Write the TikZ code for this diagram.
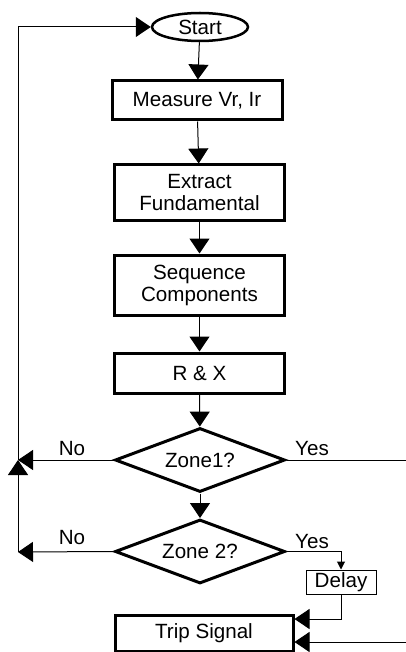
\documentclass[tikz,border=0pt]{standalone}
\usepackage{fontspec}
\setmainfont{Liberation Sans}
\usetikzlibrary{shapes.geometric,arrows.meta,positioning,calc}
\tikzset{
  flowbox/.style={draw, line width=1.5pt, minimum width=85pt, inner sep=1pt, align=center},
  thinbox/.style={draw, line width=0.5pt, minimum width=35pt, minimum height=12pt, inner sep=1pt},
  decision/.style={draw, diamond, line width=1.5pt, aspect=2.65, minimum width=85pt,
    minimum height=32pt, inner sep=0pt},
  terminal/.style={draw, ellipse, line width=1.25pt, minimum width=48pt, minimum height=14pt, inner sep=0pt},
  arr/.style={-{Triangle[length=7.5pt,width=10pt]}, line width=0.5pt},
  smallarr/.style={-{Triangle[length=4pt,width=4pt]}, line width=0.5pt},
  lbl/.style={inner sep=0pt},
}
\begin{document}
\begin{tikzpicture}[x=0.5pt, y=-0.5pt, font=\fontsize{10.3}{11}\selectfont]
    \useasboundingbox (0,0) rectangle (406,652);
    % main chain
    \node[terminal] (start) at (200,27) {Start};
    \node[flowbox, minimum height=19.5pt] (meas) at (197,100.5) {Measure Vr, Ir};
    \node[flowbox, minimum height=27.5pt] (ext) at (199.5,192.5) {Extract\\Fundamental};
    \node[flowbox, minimum height=30pt] (seq) at (199.5,285) {Sequence\\Components};
    \node[flowbox, minimum height=20pt] (rx) at (199.5,373) {R \& X};
    \node[decision] (z1) at (200,460) {Zone1?};
    \node[decision] (z2) at (200,551.5) {Zone 2?};
    \node[thinbox] (delay) at (341,582) {Delay};
    \node[flowbox, minimum width=89pt, minimum height=18pt] (trip) at (204,633) {Trip Signal};
    \foreach \a/\b in {start/meas, meas/ext, ext/seq, seq/rx, rx/z1, z1/z2}
      \draw[arr] (\a) -- (\b);
    % loop back
    \coordinate (n1) at (18,460);
    \coordinate (n2) at (18,552);
    \draw[arr] (z2.west) -- (n2);
    \draw[arr] (n2) -- (n1);
    \draw[arr] (z1.west) -- (n1);
    \draw[arr] (n1) |- (start.west);
    \node[lbl] (no1) at (72,449) {No};
    \node[lbl] (no2) at (72,538) {No};
    % yes branches
    \coordinate (yes1) at (406,460);
    \coordinate (yes2) at (406,642);
    \draw[line width=0.5pt] (z1.east) -- (yes1);
    \node[lbl] (y1) at (312,449) {Yes};
    \draw[smallarr] (z2.east) -| (delay.north);
    \node[lbl] (y2) at (312,542) {Yes};
    \draw[arr] (delay.south) |- ($(trip.east)+(0,-14)$);
    \draw[arr] (yes2) -- ($(trip.east)+(0,9)$);
\end{tikzpicture}
\end{document}
